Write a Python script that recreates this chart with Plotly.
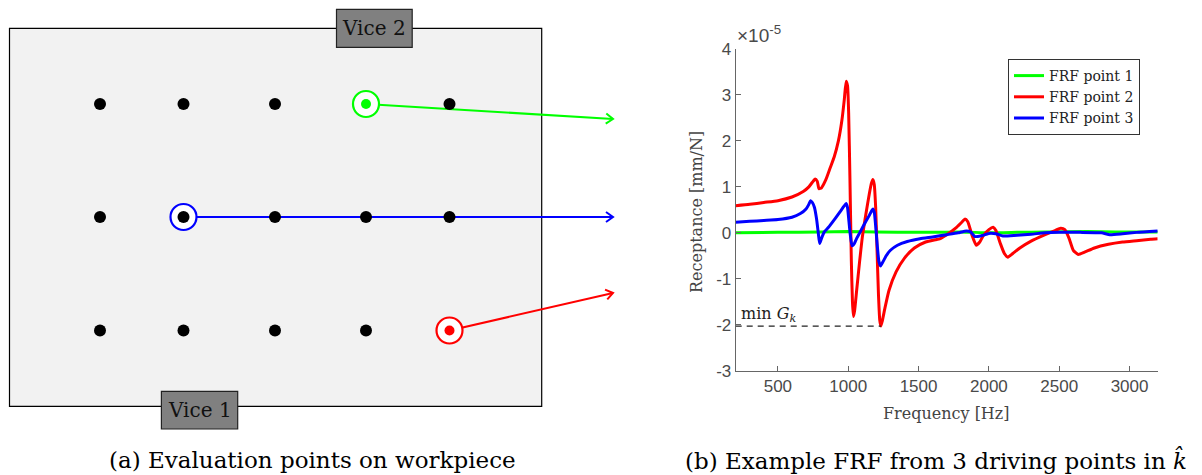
import numpy as np
import plotly.graph_objects as go

# ---------------- data: FRF curves (receptance in units of 1e-5 mm/N) ----------------
freq_p1 = [200, 500, 800, 1000, 1200, 1500, 1800, 2000, 2200, 2400, 2700, 2900, 3200]
rec_p1 = [0.0, 0.01, 0.02, 0.03, 0.02, 0.01, 0.02, 0.0, 0.01, 0.02, 0.03, 0.02, 0.02]

freq_p2 = [200, 300, 400, 500, 600, 680, 720, 745, 765, 780, 792, 810, 840, 870, 900, 930,
           955, 972, 985, 995, 1003, 1012, 1022, 1030, 1037, 1045, 1060, 1080, 1100, 1125,
           1150, 1165, 1175, 1185, 1195, 1205, 1215, 1224, 1232, 1242, 1260, 1290, 1340, 1400,
           1470, 1550, 1620, 1650, 1700, 1770, 1810, 1830, 1850, 1880, 1910, 1935, 1960, 2000,
           2030, 2050, 2080, 2110, 2135, 2170, 2220, 2300, 2400, 2470, 2510, 2540, 2570, 2600,
           2635, 2680, 2750, 2850, 2950, 3050, 3150, 3200]
rec_p2 = [0.59, 0.62, 0.66, 0.70, 0.78, 0.90, 1.00, 1.10, 1.17, 1.12, 0.96, 0.98, 1.15, 1.40,
          1.65, 2.00, 2.45, 2.90, 3.30, 3.20, 2.60, 1.20, -0.60, -1.50, -1.82, -1.70, -1.25,
          -0.65, -0.10, 0.40, 0.85, 1.08, 1.16, 1.05, 0.55, -0.40, -1.35, -1.90, -2.03, -1.92,
          -1.65, -1.25, -0.85, -0.55, -0.33, -0.20, -0.15, -0.13, -0.04, 0.12, 0.24, 0.30,
          0.24, -0.05, -0.27, -0.20, -0.06, 0.07, 0.12, 0.05, -0.22, -0.45, -0.53, -0.45, -0.33,
          -0.18, -0.04, 0.05, 0.10, 0.07, -0.12, -0.38, -0.47, -0.42, -0.33, -0.25, -0.20, -0.17,
          -0.14, -0.13]

freq_p3 = [200, 300, 400, 500, 600, 660, 700, 720, 732, 745, 760, 775, 787, 797, 810, 830,
           860, 900, 940, 970, 985, 995, 1005, 1015, 1027, 1040, 1060, 1085, 1120, 1150, 1165,
           1175, 1185, 1195, 1207, 1218, 1230, 1245, 1270, 1300, 1350, 1420, 1510, 1600, 1700,
           1780, 1840, 1870, 1900, 1950, 2010, 2050, 2100, 2200, 2300, 2400, 2500, 2650, 2800,
           2860, 2950, 3050, 3200]
rec_p3 = [0.23, 0.25, 0.27, 0.29, 0.34, 0.42, 0.52, 0.62, 0.70, 0.66, 0.55, 0.30, 0.00,
          -0.23, -0.12, 0.02, 0.12, 0.28, 0.45, 0.58, 0.64, 0.55, 0.25, -0.05, -0.28, -0.25,
          -0.12, 0.02, 0.22, 0.38, 0.47, 0.52, 0.45, 0.15, -0.30, -0.62, -0.72, -0.64, -0.50,
          -0.38, -0.27, -0.19, -0.13, -0.09, -0.04, 0.00, 0.04, 0.02, -0.08, -0.06, -0.01,
          -0.02, -0.07, -0.05, -0.03, 0.00, 0.01, 0.01, 0.00, -0.04, -0.02, 0.01, 0.04]

series_names = ["FRF point 1", "FRF point 2", "FRF point 3"]
series_colors = ["#00ff00", "#ff0000", "#0000ff"]

x_ticks = [500, 1000, 1500, 2000, 2500, 3000]
y_ticks = [-3, -2, -1, 0, 1, 2, 3, 4]
y_tick_labels = ["-3", "-2", "-1", "0", "1", "2", "3", "4"]

# ---------------- data: schematic of evaluation points (pixel-like units) ----------------
grid_cols = [100, 183.5, 275, 366, 449.5]
grid_rows = [104, 217, 330.5]
# driving points in series order (point 1 green, point 2 red, point 3 blue)
drive_col = [3, 4, 1]
drive_row = [0, 2, 1]
drive_dot_colors = ["#00ff00", "#ff0000", "#000000"]
arrow_end_x = [613, 613, 613]
arrow_end_y = [119, 293, 217]

W, H = 1202, 475
fig = go.Figure()

# ---- left panel: arrows ----
for i in range(3):
    x0 = grid_cols[drive_col[i]]
    y0 = grid_rows[drive_row[i]]
    x1, y1 = arrow_end_x[i], arrow_end_y[i]
    fig.add_trace(go.Scatter(x=[x0, x1], y=[y0, y1], mode="lines",
                             line=dict(color=series_colors[i], width=2),
                             showlegend=False, hoverinfo="skip", xaxis="x", yaxis="y"))
    ux, uy = x1 - x0, y1 - y0
    n = (ux ** 2 + uy ** 2) ** 0.5
    ux, uy = ux / n, uy / n
    px, py = -uy, ux
    L, Wd = 7, 5
    ax_, ay_ = x1 - L * ux + Wd * px, y1 - L * uy + Wd * py
    bx_, by_ = x1 - L * ux - Wd * px, y1 - L * uy - Wd * py
    fig.add_trace(go.Scatter(x=[ax_, x1, bx_], y=[ay_, y1, by_], mode="lines",
                             line=dict(color=series_colors[i], width=2),
                             showlegend=False, hoverinfo="skip", xaxis="x", yaxis="y"))

# ---- left panel: black evaluation dots ----
dx, dy = [], []
for r, yv in enumerate(grid_rows):
    for c, xv in enumerate(grid_cols):
        if any(drive_col[k] == c and drive_row[k] == r for k in range(3)):
            continue
        dx.append(xv)
        dy.append(yv)
fig.add_trace(go.Scatter(x=dx, y=dy, mode="markers",
                         marker=dict(size=12, color="black"),
                         showlegend=False, hoverinfo="skip", xaxis="x", yaxis="y"))

# ---- left panel: driving point circles ----
for i in range(3):
    x0 = grid_cols[drive_col[i]]
    y0 = grid_rows[drive_row[i]]
    fig.add_trace(go.Scatter(x=[x0], y=[y0], mode="markers",
                             marker=dict(size=26, color="white",
                                         line=dict(color=series_colors[i], width=2.2)),
                             showlegend=False, hoverinfo="skip", xaxis="x", yaxis="y"))
    fig.add_trace(go.Scatter(x=[x0], y=[y0], mode="markers",
                             marker=dict(size=12 if drive_dot_colors[i] == "#000000" else 10,
                                         color=drive_dot_colors[i]),
                             showlegend=False, hoverinfo="skip", xaxis="x", yaxis="y"))

# ---- right panel: FRF curves ----
curve_f = [freq_p1, freq_p2, freq_p3]
curve_v = [rec_p1, rec_p2, rec_p3]
for i in range(3):
    fig.add_trace(go.Scatter(x=curve_f[i], y=curve_v[i], mode="lines", name=series_names[i],
                             line=dict(color=series_colors[i], width=3, shape="spline",
                                       smoothing=0.5),
                             xaxis="x2", yaxis="y2", hoverinfo="skip"))

# dashed min G_k line (from axis start to the global minimum)
x_min_axis = 200
kmin = int(np.argmin(rec_p2))
fig.add_trace(go.Scatter(x=[x_min_axis, freq_p2[kmin]], y=[rec_p2[kmin], rec_p2[kmin]],
                         mode="lines", line=dict(color="#222222", width=1.2, dash="6px,5px"),
                         showlegend=False, hoverinfo="skip", xaxis="x2", yaxis="y2"))

shapes = [
    dict(type="rect", xref="x", yref="y", x0=9.5, x1=541.7, y0=28.3, y1=406.3,
         fillcolor="#f2f2f2", line=dict(color="black", width=1.2), layer="below"),
    dict(type="rect", xref="x", yref="y", x0=336.5, x1=412.2, y0=9.3, y1=47.3,
         fillcolor="#808080", line=dict(color="#222222", width=1.2), layer="below"),
    dict(type="rect", xref="x", yref="y", x0=161.4, x1=237.7, y0=391.3, y1=429,
         fillcolor="#808080", line=dict(color="#222222", width=1.2), layer="below"),
]

serif = "DejaVu Serif"
sans = "Liberation Sans, Arial, sans-serif"
tick_col = "#4a4a4a"


def ann(x, y, text, size, family=serif, color="black", xanchor="center", yanchor="middle",
        ref="paper", **kw):
    if ref == "paper":
        return dict(x=x / W, y=1 - y / H, xref="paper", yref="paper", text=text,
                    showarrow=False, xanchor=xanchor, yanchor=yanchor,
                    font=dict(family=family, size=size, color=color), **kw)
    return dict(x=x, y=y, xref="x", yref="y", text=text, showarrow=False,
                xanchor=xanchor, yanchor=yanchor,
                font=dict(family=family, size=size, color=color), **kw)


annotations = [
    ann(374.3, 28.3, "Vice 2", 20, color="#111111", ref="data"),
    ann(199.5, 410.2, "Vice 1", 20, color="#111111", ref="data"),
    ann(312.5, 460, "(a) Evaluation points on workpiece", 23),
    ann(935.5, 460, "(b) Example FRF from 3 driving points in <i>k\u0302</i>", 23),
    ann(946, 413, "Frequency [Hz]", 16, color="#444444"),
    ann(696, 212, "Receptance [mm/N]", 16, color="#444444", textangle=-90),
    ann(735, 48, "\u00d710<sup>-5</sup>", 19, family=sans, color=tick_col,
        xanchor="left", yanchor="bottom"),
    ann(739, 327, "min <i>G</i><sub><i>k</i></sub>", 16, color="#222222",
        xanchor="left", yanchor="bottom"),
]

fig.update_layout(
    width=W, height=H, autosize=False,
    margin=dict(l=0, r=0, t=0, b=0, pad=0, autoexpand=False),
    paper_bgcolor="white", plot_bgcolor="white",
    shapes=shapes, annotations=annotations,
    xaxis=dict(domain=[0, 625 / W], range=[0, 625], visible=False, fixedrange=True),
    yaxis=dict(domain=[0, 1], range=[H, 0], visible=False, fixedrange=True),
    xaxis2=dict(domain=[735.7 / W, 1157.7 / W], range=[200, 3200], anchor="y2",
                tickvals=x_ticks, ticktext=[str(v) for v in x_ticks],
                showline=True, linecolor="#666666", linewidth=1, mirror=False,
                ticks="inside", ticklen=5, tickcolor="#666666", showgrid=False, zeroline=False,
                tickfont=dict(family=sans, size=17, color=tick_col), automargin=False),
    yaxis2=dict(domain=[1 - 370.7 / H, 1 - 49 / H], range=[-3, 4], anchor="x2",
                tickvals=y_ticks, ticktext=y_tick_labels,
                showline=True, linecolor="#666666", linewidth=1, mirror=False,
                ticks="inside", ticklen=5, tickcolor="#666666", showgrid=False, zeroline=False,
                tickfont=dict(family=sans, size=17, color=tick_col), automargin=False),
    legend=dict(x=1008 / W, y=1 - 59 / H, xanchor="left", yanchor="top",
                bgcolor="white", bordercolor="#333333", borderwidth=1,
                font=dict(family=serif, size=14, color="#222222"),
                tracegroupgap=0, itemwidth=30),
    showlegend=True,
)

fig.write_html("out.html",
               config={"displayModeBar": False, "responsive": False},
               post_script="document.body.style.margin='0';document.body.style.overflow='hidden';")
